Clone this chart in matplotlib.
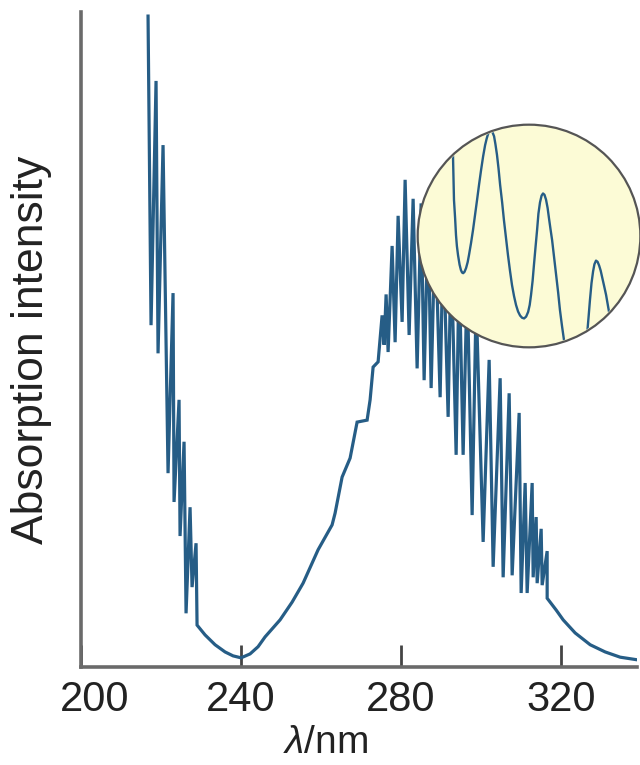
import numpy as np
import matplotlib.pyplot as plt
from matplotlib.patches import Circle
from matplotlib.transforms import ScaledTranslation

plt.rcParams['font.family'] = ['Liberation Sans', 'DejaVu Sans']
plt.rcParams['mathtext.fontset'] = 'custom'
plt.rcParams['mathtext.rm'] = 'Liberation Sans'
plt.rcParams['mathtext.it'] = 'Liberation Sans:italic'


# =========================================================
# DATA
# =========================================================

# wavelength / nm
wavelength = [
    216.75, 217.5, 218.75, 219.25, 220.5, 221.75, 223.0, 223.25,
    224.5, 224.75, 225.75, 226.25, 227.25, 227.75, 228.75, 229.0,
    231.0, 233.5, 236.0, 238.0, 240.0, 242.25, 244.25, 246.0,
    249.75, 252.75, 255.5, 259.25, 261.0, 262.75, 263.5, 265.25,
    267.25, 269.0, 271.5, 272.25, 273.0, 274.25,
    275.25, 275.75, 276.25, 276.75, 277.75, 278.5, 279.25, 280.25,
    281.0, 282.0, 283.0, 284.0, 285.0, 285.75, 286.75, 287.5,
    288.5, 289.75, 290.5, 291.75, 292.5, 293.75, 294.5, 295.5,
    296.5, 297.75, 298.75, 300.5, 302.0, 303.0, 304.75, 305.5,
    307.0, 307.75, 309.5, 310.0, 311.0, 311.5, 312.75, 313.0,
    313.75, 314.0, 315.0, 315.25, 316.5, 316.5,
    318.75, 320.5, 323.5, 327.25, 331.0, 334.75, 339.0,
]

# absorption intensity (arbitrary units, 0-100)
intensity = [
    99.4, 52.2, 89.5, 47.9, 79.7, 29.6, 57.1, 25.2,
    40.8, 20.0, 34.4, 8.2, 24.4, 12.2, 18.9, 6.4,
    4.9, 3.4, 2.3, 1.7, 1.4, 2.0, 3.1, 4.6,
    7.2, 9.9, 12.8, 17.9, 19.8, 21.7, 23.5, 29.0,
    31.9, 37.4, 37.7, 40.8, 45.8, 46.6,
    53.7, 49.2, 56.9, 48.1, 64.3, 49.6, 68.9, 52.7,
    74.4, 50.7, 71.5, 45.6, 70.8, 43.8, 69.0, 42.6,
    67.5, 41.2, 66.0, 38.2, 63.7, 32.4, 61.4, 32.4,
    59.1, 23.2, 56.0, 19.1, 46.9, 15.3, 44.1, 13.7,
    41.8, 14.0, 38.8, 11.3, 28.1, 11.3, 28.1, 13.7,
    22.9, 12.8, 21.1, 12.5, 17.7, 10.5,
    8.7, 7.2, 5.2, 3.4, 2.3, 1.5, 1.1,
]

# magnified detail shown in the circle (inset units 0-1)
zoom_u = [
    0.156, 0.161, 0.165, 0.170, 0.174, 0.178, 0.183, 0.190, 0.196, 0.201,
    0.206, 0.212, 0.219, 0.226, 0.232, 0.241, 0.250, 0.259, 0.268, 0.277,
    0.286, 0.295, 0.304, 0.311, 0.317, 0.324, 0.330, 0.337, 0.344, 0.350,
    0.357, 0.364, 0.371, 0.380, 0.388, 0.397, 0.406, 0.415, 0.424, 0.433,
    0.442, 0.451, 0.460, 0.469, 0.478, 0.487, 0.496, 0.503, 0.509, 0.516,
    0.522, 0.529, 0.536, 0.542, 0.549, 0.556, 0.5625, 0.569, 0.576, 0.583,
    0.589, 0.596, 0.603, 0.612, 0.621, 0.630, 0.638, 0.647, 0.656, 0.665,
    0.674, 0.685, 0.696, 0.708, 0.719, 0.730, 0.741, 0.750, 0.759, 0.766,
    0.772, 0.779, 0.786, 0.792, 0.799, 0.806, 0.813, 0.820, 0.826, 0.835,
    0.844, 0.853, 0.862, 0.870, 0.879,
]
zoom_v = [
    1.107, 0.839, 0.661, 0.580, 0.504, 0.455, 0.415, 0.372, 0.348, 0.337,
    0.334, 0.340, 0.357, 0.383, 0.415, 0.468, 0.527, 0.594, 0.661, 0.730,
    0.795, 0.855, 0.906, 0.935, 0.955, 0.967, 0.970, 0.963, 0.945, 0.910,
    0.862, 0.800, 0.728, 0.650, 0.571, 0.493, 0.415, 0.345, 0.281, 0.232,
    0.192, 0.163, 0.145, 0.135, 0.132, 0.140, 0.161, 0.192, 0.237, 0.300,
    0.371, 0.450, 0.527, 0.600, 0.650, 0.680, 0.690, 0.684, 0.662, 0.625,
    0.580, 0.530, 0.482, 0.404, 0.326, 0.248, 0.170, 0.100, 0.036, -0.025,
    -0.076, -0.110, -0.134, -0.140, -0.125, -0.095, -0.054, 0.000, 0.058, 0.140,
    0.214, 0.290, 0.342, 0.374, 0.390, 0.385, 0.368, 0.345, 0.318, 0.278,
    0.237, 0.185, 0.134, 0.085, 0.036,
]

xticks = [200, 240, 280, 320]
xtick_labels = ["200", "240", "280", "320"]

line_color = "#265d86"
axis_color = "#6a6a6a"
text_color = "#222222"


# =========================================================
# MAIN SPECTRUM
# =========================================================

fig = plt.figure(figsize=(6.4, 7.65), dpi=100)
ax = fig.add_axes([0.1266, 0.1281, 0.869, 0.856])

ax.plot(wavelength, intensity, color=line_color, lw=2.3, solid_joinstyle="miter")

ax.set_xlim(200, 339)
ax.set_ylim(0, 100)

for side in ["top", "right"]:
    ax.spines[side].set_visible(False)
for side in ["left", "bottom"]:
    ax.spines[side].set_color(axis_color)
    ax.spines[side].set_linewidth(2.6)

ax.set_xticks(xticks)
ax.set_xticklabels(xtick_labels)
ax.set_yticks([])
ax.tick_params(axis="x", direction="in", length=16, width=2, color="#444444",
               labelsize=30, labelcolor=text_color, pad=9)

# the "200" label sits a little right of the corner
lbl = ax.get_xticklabels()[0]
lbl.set_transform(lbl.get_transform() + ScaledTranslation(10 / 72, 0, fig.dpi_scale_trans))

ax.set_xlabel(r"$\lambda$/nm", fontsize=28, color=text_color)
ax.xaxis.set_label_coords(0.44, -0.088)
ax.set_ylabel("Absorption intensity", fontsize=32, color=text_color)
ax.yaxis.set_label_coords(-0.052, 0.485)


# =========================================================
# MAGNIFYING CIRCLE
# =========================================================

ins = fig.add_axes([0.6516, 0.5451, 0.35, 0.2928])
ins.set_xlim(0, 1)
ins.set_ylim(0, 1)
ins.axis("off")

circ = Circle((0.5, 0.5), 0.497, transform=ins.transAxes, facecolor="#fcfbd6",
              edgecolor="#555555", lw=1.6, clip_on=False)
ins.add_patch(circ)

clip = Circle((0.5, 0.5), 0.49, transform=ins.transAxes)
ln, = ins.plot(zoom_u, zoom_v, color=line_color, lw=1.7, solid_joinstyle="round")
ln.set_clip_path(clip)

fig.savefig("out.png", dpi=100)
